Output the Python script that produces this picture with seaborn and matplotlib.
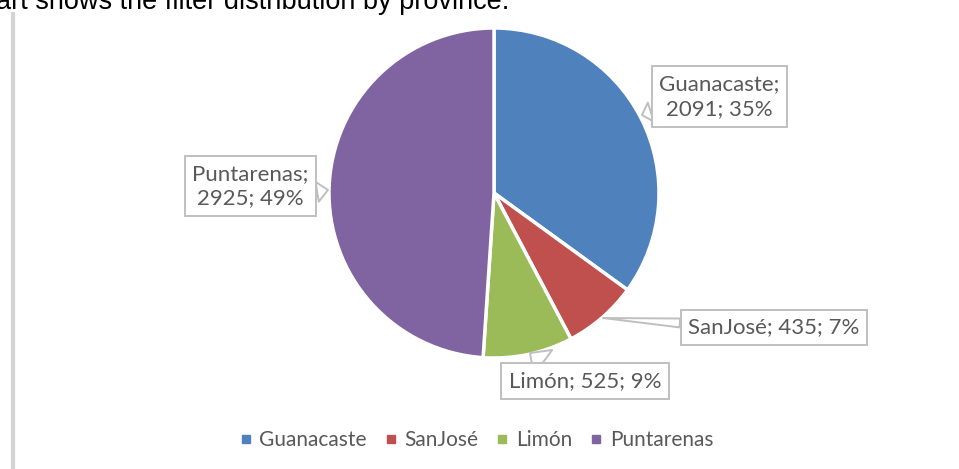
import matplotlib
matplotlib.use("Agg")
import matplotlib.pyplot as plt
from matplotlib.lines import Line2D
import seaborn as sns

# datos del gráfico
provincias = ["Guanacaste", "SanJosé", "Limón", "Puntarenas"]
filtros = [2091, 435, 525, 2925]
colores = ["#4F81BD", "#C0504D", "#9BBB59", "#8064A2"]

sns.set_style("white")
plt.rcParams["font.family"] = ["Lato", "DejaVu Sans"]

fig = plt.figure(figsize=(9.59, 4.69), dpi=100)
ax = fig.add_axes([0, 0, 1, 1])

# pastel centrado en píxeles
ax.pie(filtros, colors=colores, startangle=90, counterclock=False,
       center=(494, 276), radius=165,
       wedgeprops=dict(edgecolor="white", linewidth=2.5))
ax.set_xlim(0, 959)
ax.set_ylim(0, 469)
ax.set_aspect("equal")
ax.axis("off")

total = sum(filtros)

# posiciones de las cajas: centro, punta en el pastel, relpos, ancho cuña, dos líneas
cajas = {
    "Guanacaste": ((719.5, 372.5), (642, 354), (0, 0.21), 0.9, True),
    "SanJosé": ((774, 141.5), (603, 151), (0, 0.7), 0.4, False),
    "Limón": ((585, 88), (530, 116), (0.3, 1), 1.4, False),
    "Puntarenas": ((250.5, 283), (328, 279), (1, 0.34), 0.9, True),
}

for p, v in zip(provincias, filtros):
    pct = round(100 * v / total)
    (tx, ty), (px, py), rel, tw, dos_lineas = cajas[p]
    sep = "\n" if dos_lineas else " "
    txt = f"{p};{sep}{v}; {pct}%"
    ax.annotate(txt, xy=(px, py), xytext=(tx, ty), ha="center", va="center",
                fontsize=16, color="#595959", linespacing=1.3,
                bbox=dict(boxstyle="square,pad=0.35", fc="white", ec="#BFBFBF", lw=1.4),
                arrowprops=dict(arrowstyle=f"wedge,tail_width={tw}", fc="white",
                                ec="#BFBFBF", lw=1.4, relpos=rel,
                                shrinkA=0, shrinkB=0))

# leyenda
handles = [Line2D([0], [0], marker="s", color="none", markerfacecolor=c,
                  markeredgecolor=c, markersize=5.5) for c in colores]
fig.legend(handles, provincias, loc="center", ncol=4,
           bbox_to_anchor=(477 / 959, 1 - 440 / 469), frameon=False,
           fontsize=15, labelcolor="#595959", handlelength=0.5,
           handletextpad=0.4, columnspacing=0.9)

# texto superior recortado y línea gris
ax.text(-4, 460, "art shows the filter distribution by province.",
        fontsize=19.5, family="Liberation Sans", color="black",
        ha="left", va="baseline")
ax.plot([13, 13], [0, 457], color="#D4D4D4", lw=3, solid_capstyle="butt")

fig.savefig("out.png", dpi=100)
